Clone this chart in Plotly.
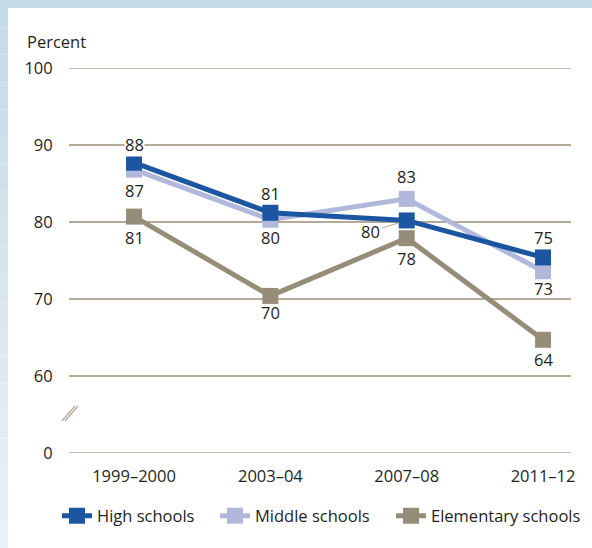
import plotly.graph_objects as go

# ---- data ----
years = ["1999–2000", "2003–04", "2007–08", "2011–12"]
high = [87.7, 81.2, 80.2, 75.4]
middle = [86.8, 80.3, 83.0, 73.6]
elementary = [80.7, 70.4, 77.9, 64.7]
high_labels = ["88", "81", "80", "75"]
middle_labels = ["87", "80", "83", "73"]
elementary_labels = ["81", "70", "78", "64"]
y_tickvals = [50, 60, 70, 80, 90, 100]
y_ticktext = ["0", "60", "70", "80", "90", "100"]

# ---- styles ----
C_HIGH = "#1c55a0"
C_MID = "#b2b8dc"
C_ELEM = "#968d79"
C_GRID = "#b3aa9a"
C_TEXT = "#231f20"
FONT = "Open Sans"
FS = 16.5

W, H = 592, 548
L, R, T, B = 69, 21, 68, 95
PW, PH = W - L - R, H - T - B


def px(x):
    return (x - L) / PW


def py(y):
    return (H - B - y) / PH


fig = go.Figure()
series = [
    ("Elementary schools", elementary, C_ELEM, "legend3"),
    ("Middle schools", middle, C_MID, "legend2"),
    ("High schools", high, C_HIGH, "legend"),
]
for name, vals, col, lg in series:
    fig.add_trace(go.Scatter(
        x=years, y=vals, name=name, mode="lines+markers",
        line=dict(color=col, width=5),
        marker=dict(symbol="square", size=16, color=col),
        legend=lg,
    ))

annotations = []


def lab(x, y, text, yshift, xshift=0, bg=None):
    d = dict(x=x, y=y, text=text, showarrow=False, yshift=yshift, xshift=xshift,
             font=dict(family=FONT, size=FS, color=C_TEXT))
    if bg:
        d["bgcolor"] = bg
        d["borderpad"] = 0
    annotations.append(d)


# high labels
lab(years[0], high[0], high_labels[0], 18, bg="white")
lab(years[1], high[1], high_labels[1], 19)
lab(years[3], high[3], high_labels[3], 20)
# middle labels
lab(years[0], middle[0], middle_labels[0], -21)
lab(years[1], middle[1], middle_labels[1], -18)
lab(years[2], middle[2], middle_labels[2], 22)
lab(years[3], middle[3], middle_labels[3], -17)
# elementary labels
for i, s in enumerate([-21, -17, -20, -20]):
    lab(years[i], elementary[i], elementary_labels[i], s)
# leader label for high 2007-08
annotations.append(dict(
    x=years[2], y=high[2], text=high_labels[2], showarrow=True, arrowhead=0,
    arrowwidth=1, arrowcolor=C_GRID, ax=-36, ay=11, standoff=8,
    font=dict(family=FONT, size=FS, color=C_TEXT)))
# axis title
annotations.append(dict(
    x=px(25), y=py(41), xref="paper", yref="paper", text="Percent",
    showarrow=False, xanchor="left", yanchor="middle",
    font=dict(family=FONT, size=FS, color=C_TEXT)))

shapes = []
# page background: light-blue left/top strips
n = 20
for i in range(n):
    t = i / (n - 1)
    r = int(0xc4 + (0xea - 0xc4) * t)
    g = int(0xdb + (0xf1 - 0xdb) * t)
    b = int(0xe9 + (0xf8 - 0xe9) * t)
    shapes.append(dict(type="rect", xref="paper", yref="paper", layer="below",
                       x0=px(0), x1=px(8), y0=py(H * (i + 1) / n), y1=py(H * i / n),
                       fillcolor=f"rgb({r},{g},{b})", line=dict(width=0)))
shapes.append(dict(type="rect", xref="paper", yref="paper", layer="below",
                   x0=px(0), x1=px(W), y0=py(8), y1=py(0),
                   fillcolor="#c4dbe9", line=dict(width=0)))
# edge gridlines (top 100 and bottom 0)
for v in (y_tickvals[0], y_tickvals[-1]):
    shapes.append(dict(type="line", xref="paper", yref="y", layer="below",
                       x0=0, x1=1, y0=v, y1=v, line=dict(color=C_GRID, width=1.5)))
# axis break marks
for dx in (0, 3):
    shapes.append(dict(type="line", xref="paper", yref="paper",
                       x0=px(62 + dx), y0=py(421), x1=px(75 + dx), y1=py(406),
                       line=dict(color=C_GRID, width=1.3)))


def leg(xpix):
    return dict(orientation="h", x=px(xpix), y=py(516), xanchor="left", yanchor="middle",
                font=dict(family=FONT, size=FS, color=C_TEXT),
                itemwidth=30, bgcolor="rgba(0,0,0,0)")


fig.update_layout(
    width=W, height=H,
    margin=dict(l=L, r=R, t=T, b=B, autoexpand=False),
    paper_bgcolor="white", plot_bgcolor="rgba(0,0,0,0)",
    font=dict(family=FONT, size=FS, color=C_TEXT),
    showlegend=True,
    legend=leg(57), legend2=leg(215), legend3=leg(391),
    annotations=annotations,
    shapes=shapes,
)
fig.update_xaxes(
    range=[-0.477, 3.205], showgrid=False, zeroline=False, showline=False,
    ticks="outside", ticklen=8, tickcolor="rgba(0,0,0,0)",
    tickfont=dict(family=FONT, size=FS, color=C_TEXT), fixedrange=True,
)
fig.update_yaxes(
    range=[50, 100], tickvals=y_tickvals, ticktext=y_ticktext,
    showgrid=True, gridcolor=C_GRID, gridwidth=1.5, zeroline=False, showline=False,
    ticks="outside", ticklen=12, tickcolor="rgba(0,0,0,0)",
    tickfont=dict(family=FONT, size=FS, color=C_TEXT), fixedrange=True,
)

fig.write_html("out.html")
